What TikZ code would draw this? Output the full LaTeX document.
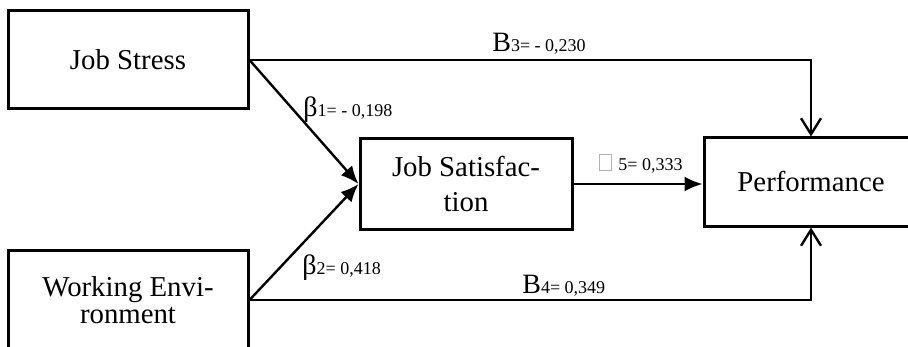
\documentclass[tikz,border=0pt]{standalone}
\usepackage{fontspec}
\setmainfont{Liberation Serif}
\usetikzlibrary{arrows.meta}

\newcommand{\pathlbl}[2]{{\fontsize{14}{14}\selectfont #1}{\fontsize{9}{9}\selectfont #2}}
\newcommand{\tofu}{{\color{black!30}\setlength{\fboxsep}{0pt}\setlength{\fboxrule}{0.5pt}\fbox{\rule{0pt}{7.5pt}\hspace{5.5pt}}}\hspace{3pt}}

\begin{document}
\begin{tikzpicture}[x=0.5pt,y=-0.5pt,
  box/.style={draw,line width=1.5pt,align=center,inner sep=0pt,font=\fontsize{14.4}{17.5}\selectfont},
  coef/.style={anchor=base west,inner sep=0pt},
  arrow/.style={-{Latex[length=9pt,width=7.5pt]},line width=1.2pt},
  openarrow/.style={-{Straight Barb[length=8pt,width=10pt]},line width=1.2pt}
]
\useasboundingbox (0,0) rectangle (908,347);
\clip (0,0) rectangle (908,347);
\node[box,minimum width=120pt,minimum height=49pt] (stress) at (128,60) {Job Stress};
\node[box,minimum width=106pt,minimum height=45pt] (satisf) at (466,184) {Job Satisfac-\\tion};
\node[box,minimum width=107pt,minimum height=44pt] (perf) at (811,182) {Performance};
\node[box,minimum width=120pt,minimum height=50pt,font=\fontsize{14.4}{13.5}\selectfont] (workenv) at (128,300) {Working Envi-\\ronment};
\draw[arrow] (stress.east) -- (satisf.west);
\draw[arrow] (workenv.east) -- (satisf.west);
\draw[arrow] (satisf.east) -- (satisf.east -| perf.west);
\draw[openarrow] (stress.east) -| (perf.north);
\draw[openarrow] (workenv.east) -| (perf.south);
\node[coef] (b1) at (303,117) {\pathlbl{β}{1= - 0,198}};
\node[coef] (b2) at (302,274) {\pathlbl{β}{2= 0,418}};
\node[coef] (b3) at (492,52) {\pathlbl{B}{3= - 0,230}};
\node[coef] (b4) at (522,293) {\pathlbl{B}{4= 0,349}};
\node[coef] (b5) at (599,170) {\tofu\pathlbl{}{5= 0,333}};
\end{tikzpicture}
\end{document}
